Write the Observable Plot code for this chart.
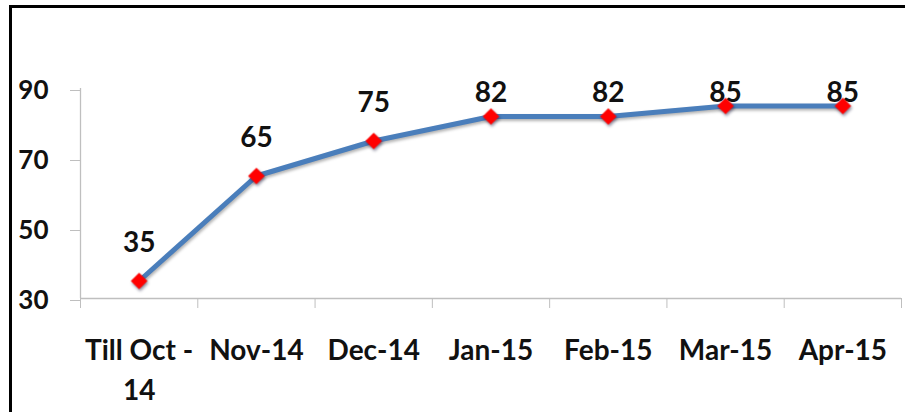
<!DOCTYPE html>
<html>
<head>
<meta charset="utf-8">
<script src="https://cdn.jsdelivr.net/npm/d3@7"></script>
<script src="https://cdn.jsdelivr.net/npm/@observablehq/plot@0.6"></script>
<style>
  html, body { margin: 0; padding: 0; background: #fff; }
  #wrap { position: relative; width: 905px; height: 412px; overflow: hidden; }
  #wrap svg { position: absolute; left: 0; top: 0; }
  .bt { position: absolute; left: 9px; top: 5px; width: 896px; height: 3px; background: #000; }
  .bl { position: absolute; left: 9px; top: 5px; width: 3px; height: 407px; background: #000; }
  svg g[aria-label="line"] { filter: drop-shadow(1px 2px 1.5px rgba(0,0,0,0.3)); }
  svg g[aria-label="dot"] { filter: drop-shadow(1px 2px 1.5px rgba(0,0,40,0.45)); }
</style>
</head>
<body>
<div id="wrap"><div class="bt"></div><div class="bl"></div></div>
<script>
const categories = ["Till Oct -\n14", "Nov-14", "Dec-14", "Jan-15", "Feb-15", "Mar-15", "Apr-15"];
const values = [35, 65, 75, 82, 82, 85, 85];
const yTicks = [30, 50, 70, 90];

const data = categories.map((c, i) => ({i: i + 0.5, cat: c, v: values[i]}));
// data labels sit above points, kept inside the plot area (as the chart software does)
const labelData = data.map(d => ({...d, ly: Math.min(d.v + 10.9, 88.6)}));
const gray = "#bfbfbf";

const chart = Plot.plot({
  width: 905,
  height: 412,
  marginLeft: 80,
  marginRight: 4,
  marginTop: 88,
  marginBottom: 114,
  style: {fontFamily: "Lato, 'Liberation Sans', sans-serif", background: "transparent"},
  x: {type: "linear", domain: [0, categories.length], label: null},
  y: {domain: [30, 90], label: null},
  marks: [
    Plot.ruleY([30], {stroke: gray, strokeWidth: 1.3}),
    Plot.ruleX([0], {y1: 30, y2: 90, stroke: gray, strokeWidth: 1.3}),
    Plot.axisY({ticks: yTicks, tickSize: 10, tickPadding: 22, stroke: gray, fill: "#111",
      fontSize: 26, fontWeight: "bold", dy: 2, label: null}),
    Plot.axisX({ticks: d3.range(0, categories.length + 1), tickSize: 10, stroke: gray, tickFormat: () => "", label: null}),
    Plot.axisX({ticks: data.map(d => d.i), tickSize: 0, tickPadding: 32, fill: "#111", label: null,
      tickFormat: t => categories[Math.floor(t)], fontSize: 28, fontWeight: "bold", lineHeight: 1.46}),
    Plot.text(labelData, {x: "i", y: "ly", text: d => String(d.v), fontSize: 28, fontWeight: "bold", fill: "#111"}),
    Plot.line(data, {x: "i", y: "v", stroke: "#4a7ebb", strokeWidth: 5}),
    Plot.dot(data, {x: "i", y: "v", symbol: "diamond2", r: 7.5, fill: "#ff0000", stroke: "none"})
  ]
});
document.getElementById("wrap").appendChild(chart);
</script>
</body>
</html>
